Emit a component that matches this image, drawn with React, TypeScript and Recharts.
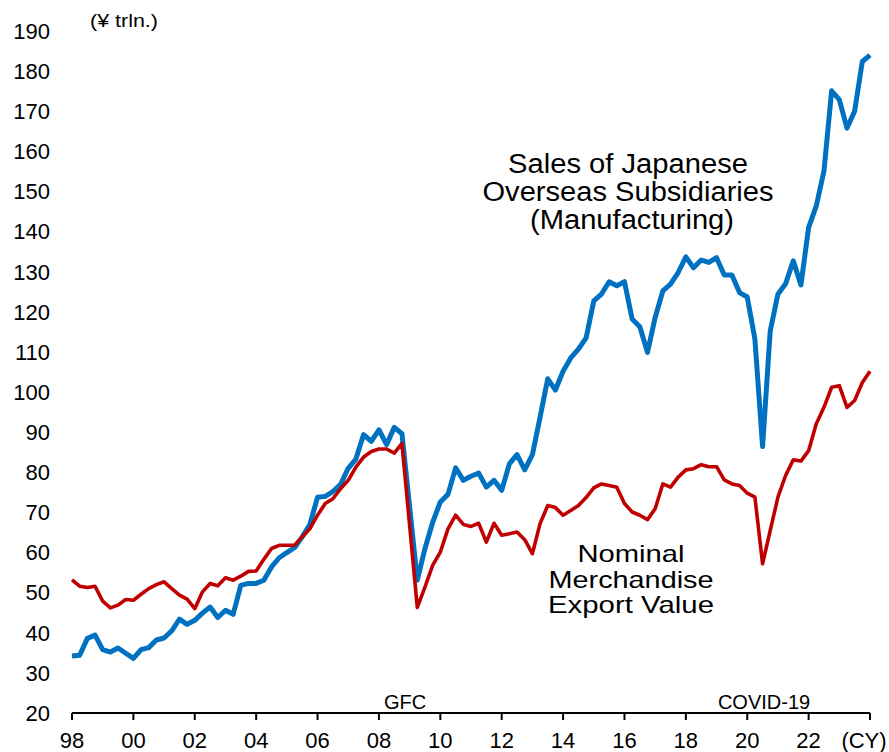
import React from 'react';
import { Line, LineChart, XAxis, YAxis } from 'recharts';

// quarterly, 1998 Q1 .. 2024 Q1 (index 0..104), ¥ trln.
const overseasSales = [
  34.2, 34.4, 38.6, 39.4, 35.8, 35.2, 36.2, 34.9,
  33.6, 35.8, 36.3, 38.2, 38.7, 40.5, 43.4, 42.1,
  43.1, 44.9, 46.4, 43.8, 45.6, 44.6, 51.8, 52.3,
  52.3, 53.1, 56.4, 58.7, 60.0, 61.2, 63.9, 67.0,
  73.8, 74.0, 75.2, 77.0, 81.0, 83.3, 89.4, 87.7,
  90.6, 86.9, 91.2, 89.6, 71.4, 53.1, 61.0, 67.5,
  72.6, 74.5, 81.1, 78.0, 79.0, 79.8, 76.3, 78.0,
  75.5, 82.1, 84.4, 80.6, 84.4, 93.7, 103.3, 100.5,
  105.2, 108.5, 110.7, 113.5, 122.7, 124.4, 127.5, 126.5,
  127.5, 118.2, 116.3, 109.9, 118.6, 125.2, 126.9, 129.8,
  133.7, 131.0, 132.9, 132.3, 133.5, 129.2, 129.2, 124.8,
  123.7, 113.2, 86.4, 115.3, 124.4, 127.0, 132.7, 126.7,
  141.0, 146.4, 155.1, 175.1, 172.9, 165.8, 170.0, 182.4,
  184.0,
];

const exportValue = [
  53.2, 51.6, 51.3, 51.6, 47.9, 46.2, 46.9, 48.3,
  48.1, 49.6, 51.0, 52.0, 52.7, 51.0, 49.4, 48.4,
  46.0, 50.2, 52.3, 51.7, 53.7, 53.1, 54.1, 55.3,
  55.4, 58.3, 61.0, 61.8, 61.8, 61.8, 63.9, 65.9,
  69.3, 72.2, 73.4, 75.9, 78.0, 81.3, 83.8, 85.2,
  85.8, 85.8, 84.8, 87.2, 66.8, 46.3, 51.4, 56.8,
  60.1, 65.9, 69.3, 67.0, 66.5, 67.3, 62.6, 67.3,
  64.3, 64.7, 65.1, 63.2, 59.7, 67.2, 71.7, 71.2,
  69.3, 70.5, 71.7, 73.7, 76.1, 77.1, 76.7, 76.3,
  72.2, 70.1, 69.3, 68.2, 70.9, 77.1, 76.3, 78.8,
  80.6, 80.9, 81.9, 81.4, 81.4, 78.1, 77.1, 76.7,
  74.8, 73.8, 57.2, 65.5, 73.8, 79.2, 83.1, 82.8,
  85.4, 92.1, 96.2, 101.2, 101.6, 96.2, 97.9, 102.4,
  105.2,
];

const xLabels = ['98', '00', '02', '04', '06', '08', '10', '12', '14', '16', '18', '20', '22', '(CY)'];
const xTicks = xLabels.map((_, i) => i * 8);
const yTicks = [20, 30, 40, 50, 60, 70, 80, 90, 100, 110, 120, 130, 140, 150, 160, 170, 180, 190];

const data = overseasSales.map((v, i) => ({ t: i, sales: v, exports: exportValue[i] }));

const FONT = '"Liberation Sans", Arial, sans-serif';

function XTick(props: any) {
  const { x, y, index } = props;
  const label = xLabels[index];
  const dx = label === '(CY)' ? -6 : 0;
  return (
    <text x={x + dx} y={y} dy={14} textAnchor="middle" fontSize={22} fontFamily={FONT} fill="#000">
      {label}
    </text>
  );
}

export default function App() {
  const txt = { fontFamily: FONT, fill: '#000' };
  return (
    <div style={{ position: 'relative', width: 889, height: 752, fontFamily: FONT, background: '#fff' }}>
      <style>{'body{margin:0}'}</style>
      <LineChart width={889} height={752} data={data} margin={{ top: 31, right: 19, left: 0, bottom: 0 }}>
        <XAxis
          type="number"
          dataKey="t"
          domain={[0, 104]}
          ticks={xTicks}
          interval={0}
          height={39}
          tickSize={7}
          tickMargin={14}
          axisLine={{ stroke: '#000', strokeWidth: 2 }}
          tickLine={{ stroke: '#000', strokeWidth: 2 }}
          tick={<XTick />}
        />
        <YAxis
          type="number"
          domain={[20, 190]}
          ticks={yTicks}
          interval={0}
          width={72}
          axisLine={false}
          tickLine={false}
          tickSize={0}
          tickMargin={22}
          tick={{ fontSize: 22, fontFamily: FONT, fill: '#000' }}
        />
        <Line
          type="linear"
          dataKey="sales"
          stroke="#0070C0"
          strokeWidth={5}
          strokeLinejoin="round"
          dot={false}
          isAnimationActive={false}
        />
        <Line
          type="linear"
          dataKey="exports"
          stroke="#C00000"
          strokeWidth={3.6}
          strokeLinejoin="round"
          dot={false}
          isAnimationActive={false}
        />
      </LineChart>
      <svg width={889} height={752} style={{ position: 'absolute', left: 0, top: 0, pointerEvents: 'none' }}>
        <text x={90} y={27} fontSize={18} textLength={68} lengthAdjust="spacingAndGlyphs" {...txt}>(¥ trln.)</text>
        <text x={628} y={173} fontSize={27} textAnchor="middle" textLength={240} lengthAdjust="spacingAndGlyphs" {...txt}>Sales of Japanese</text>
        <text x={628} y={201} fontSize={27} textAnchor="middle" textLength={291} lengthAdjust="spacingAndGlyphs" {...txt}>Overseas Subsidiaries</text>
        <text x={632} y={229} fontSize={27} textAnchor="middle" textLength={204} lengthAdjust="spacingAndGlyphs" {...txt}>(Manufacturing)</text>
        <text x={631} y={562} fontSize={24} textAnchor="middle" textLength={107} lengthAdjust="spacingAndGlyphs" {...txt}>Nominal</text>
        <text x={631} y={587.5} fontSize={24} textAnchor="middle" textLength={165} lengthAdjust="spacingAndGlyphs" {...txt}>Merchandise</text>
        <text x={631} y={613} fontSize={24} textAnchor="middle" textLength={166} lengthAdjust="spacingAndGlyphs" {...txt}>Export Value</text>
        <text x={405} y={709} fontSize={20} textAnchor="middle" {...txt}>GFC</text>
        <text x={764} y={709} fontSize={20} textAnchor="middle" {...txt}>COVID-19</text>
      </svg>
    </div>
  );
}
